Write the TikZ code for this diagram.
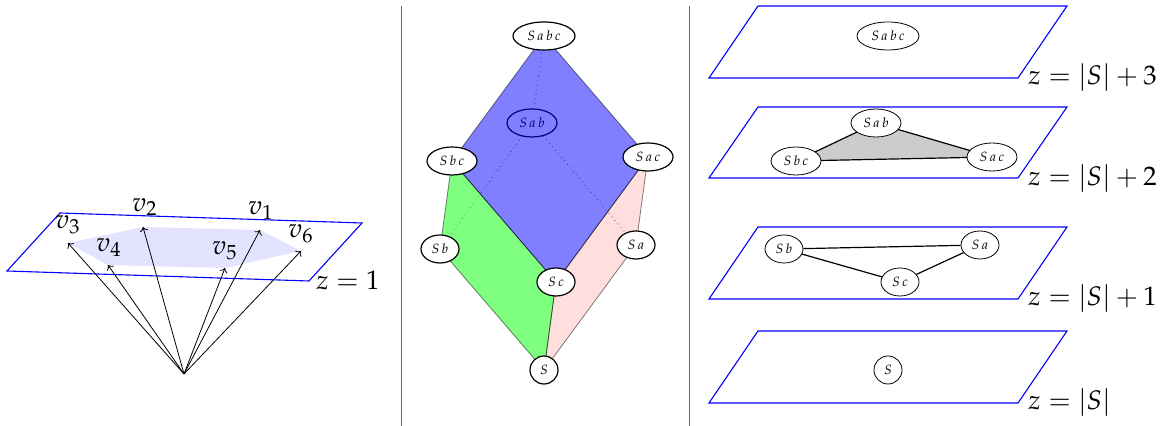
\documentclass[tikz,border=0pt]{standalone}
\usepackage{mathpazo}
\usetikzlibrary{arrows.meta,shapes.geometric}
\definecolor{rule}{HTML}{666666}
\tikzset{
  plane/.style={draw=blue,line width=.55pt},
  vertex/.style={draw=black,fill=white,ellipse,inner sep=0pt,minimum height=14pt,minimum width=#1,font=\fontsize{6.7}{8}\selectfont},
  vertex/.default=25pt,
  bold/.style={line width=.6pt},
  hidden/.style={dotted,line width=.3pt,draw=black},
  level/.style={anchor=base west,inner sep=0pt}
}
\begin{document}
\begin{tikzpicture}[x=0.5pt,y=-0.5pt,>={Computer Modern Rightarrow[length=2.2pt,width=4.2pt]},every node/.style={font=\fontsize{13.4}{16}\selectfont}]
  \useasboundingbox (0,0) rectangle (1169,426);
  % cone over the hexagon
  \coordinate (apex) at (184,374);
  \coordinate (tipa) at (260,230); \coordinate (tipb) at (143,227); \coordinate (tipc) at (68,243);
  \coordinate (tipd) at (108,265); \coordinate (tipe) at (225,268); \coordinate (tipf) at (301,251);
  \draw[plane] (60,213) -- (362,223) -- (309,281) -- (7,271) -- cycle;
  \fill[blue!11] (tipa) -- (tipb) -- (tipc) -- (tipd) -- (tipe) -- (tipf) -- cycle;
  \draw[->] (apex) -- (tipa); \draw[->] (apex) -- (tipb); \draw[->] (apex) -- (tipc);
  \draw[->] (apex) -- (tipd); \draw[->] (apex) -- (tipe); \draw[->] (apex) -- (tipf);
  \node (la) at (261,211) {$v_1$}; \node (lb) at (145,207) {$v_2$}; \node (lc) at (68,225) {$v_3$};
  \node (ld) at (109,248) {$v_4$}; \node (le) at (225,251) {$v_5$}; \node (lf) at (301,234) {$v_6$};
  \node[level] (lone) at (316,290) {$z=1$};
  % separators
  \coordinate (ruleat) at (401,6); \coordinate (rulebt) at (689,6);
  \draw[rule] (ruleat) -- (401,426); \draw[rule] (rulebt) -- (689,426);
  % lattice
  \coordinate (mabc) at (544,36); \coordinate (mbc) at (452,161); \coordinate (mac) at (648,157);
  \coordinate (mb) at (440,249); \coordinate (mc) at (556,282); \coordinate (ma) at (636,245); \coordinate (ms) at (544,370);
  \node[vertex=25pt,bold] (mab) at (532,123) {$S\,a\,b$};
  \draw[hidden] (mab) -- (mabc); \draw[hidden] (mab) -- (mb); \draw[hidden] (mab) -- (ma);
  \draw[fill=red,fill opacity=.13,draw opacity=.5] (mac) -- (ma) -- (ms) -- (mc) -- cycle;
  \draw[fill=green,fill opacity=.5,draw opacity=.5] (mbc) -- (mb) -- (ms) -- (mc) -- cycle;
  \draw[fill=blue,fill opacity=.5,draw opacity=.5] (mabc) -- (mac) -- (mc) -- (mbc) -- cycle;
  \node[vertex=31pt,bold] (nabc) at (mabc) {$S\,a\,b\,c$};
  \node[vertex=25pt,bold] (nbc) at (mbc) {$S\,b\,c$}; \node[vertex=25pt,bold] (nac) at (mac) {$S\,a\,c$};
  \node[vertex=19pt,bold] (nb) at (mb) {$S\,b$}; \node[vertex=19pt,bold] (nc) at (mc) {$S\,c$};
  \node[vertex=19pt,bold] (na) at (ma) {$S\,a$}; \node[vertex=14pt,bold] (ns) at (ms) {$S$};
  % levels
  \draw[plane] (758,6) -- (1067,6) -- (1018,78) -- (709,78) -- cycle;
  \node[vertex=31pt] (rabc) at (888,36) {$S\,a\,b\,c$};
  \node[level] (ltop) at (1028,85) {$z=|S|+3$};
  \draw[plane] (758,107) -- (1067,107) -- (1018,178) -- (709,178) -- cycle;
  \coordinate (tab) at (876,123); \coordinate (tbc) at (796,161); \coordinate (tac) at (992,157);
  \draw[semithick,fill=black!20] (tab) -- (tac) -- (tbc) -- cycle;
  \node[vertex=25pt] (rab) at (tab) {$S\,a\,b$}; \node[vertex=25pt] (rbc) at (tbc) {$S\,b\,c$}; \node[vertex=25pt] (rac) at (tac) {$S\,a\,c$};
  \node[level] (lmid) at (1028,186) {$z=|S|+2$};
  \draw[plane] (758,227) -- (1067,227) -- (1018,299) -- (709,299) -- cycle;
  \node[vertex=19pt] (rb) at (784,249) {$S\,b$}; \node[vertex=19pt] (ra) at (980,245) {$S\,a$}; \node[vertex=19pt] (rc) at (900,282) {$S\,c$};
  \draw[semithick] (rb) -- (ra); \draw[semithick] (ra) -- (rc); \draw[semithick] (rc) -- (rb);
  \node[level] (llow) at (1028,306) {$z=|S|+1$};
  \draw[plane] (758,331) -- (1067,331) -- (1018,403) -- (709,403) -- cycle;
  \node[vertex=14pt] (rs) at (888,370) {$S$};
  \node[level] (lbot) at (1028,410) {$z=|S|$};
\end{tikzpicture}
\end{document}
